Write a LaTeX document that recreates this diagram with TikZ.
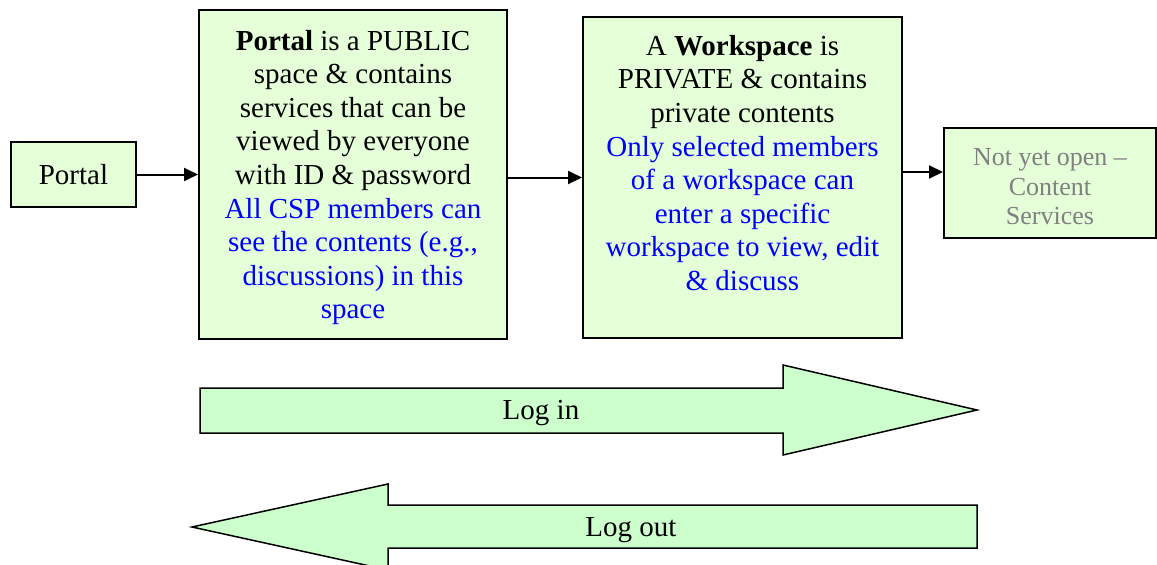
\documentclass[tikz,border=0pt]{standalone}
\usepackage{fontspec}
\setmainfont{Liberation Serif}
\usetikzlibrary{arrows.meta}

\definecolor{boxgreen}{RGB}{229,255,217}
\definecolor{arrowgreen}{RGB}{204,255,204}
\definecolor{csblue}{RGB}{0,0,255}
\definecolor{closedgray}{RGB}{128,128,128}

\tikzset{
  box/.style={draw=black, line width=2pt, fill=boxgreen, inner sep=0pt},
  boxtext/.style={align=center, inner sep=0pt, font=\fontsize{29}{33.6}\selectfont},
  link/.style={line width=2pt, -{Triangle[length=14pt,width=13pt]}},
  bigarrow/.style={draw=black, line width=1.5pt, fill=arrowgreen},
}

\begin{document}
\begin{tikzpicture}[x=1pt,y=-1pt]
\useasboundingbox (0,0) rectangle (1157,565);

% Caixas de cima
\node[box, boxtext, minimum width=125pt, minimum height=65pt] (portal) at (73.5,174.5) {Portal};

\node[box, minimum width=308pt, minimum height=329pt] (public) at (353,174.5) {};
\node[boxtext] (publictext) at ([yshift=-3pt]public.center)
  {\textbf{Portal} is a PUBLIC\\ space \& contains\\ services that can be\\ viewed by everyone\\ with ID \& password\\
   \color{csblue}All CSP members can\\ \color{csblue}see the contents (e.g.,\\ \color{csblue}discussions) in this\\ \color{csblue}space};

\node[box, minimum width=319pt, minimum height=321pt] (work) at (742.5,177.5) {};
\node[boxtext, anchor=north] (worktext) at ([yshift=-19pt]work.north)
  {A \textbf{Workspace} is\\ PRIVATE \& contains\\ private contents\\
   \color{csblue}Only selected members\\ \color{csblue}of a workspace can\\ \color{csblue}enter a specific\\ \color{csblue}workspace to view, edit\\ \color{csblue}\& discuss};

\node[box, minimum width=212pt, minimum height=110pt] (next) at (1050,183) {};
\node[align=center, inner sep=0pt, text=closedgray, font=\fontsize{26}{29.6}\selectfont] (nexttext)
  at ([yshift=-4pt]next.center) {Not yet open --\\ Content\\ Services};

% Setas entre as caixas
\draw[link] (portal) -- (public);
\draw[link] (public.east |- work) -- (work);
\coordinate (nextin) at ([yshift=11pt]next.west);
\draw[link] (work.east |- nextin) -- (nextin);

% Seta larga - entrar
\draw[bigarrow] (200,388) -- (783,388) -- (783,365) -- (977,410) -- (783,455) -- (783,433) -- (200,433) -- cycle;
\node[boxtext] (login) at (541,413) {Log in};

% Seta larga - sair
\draw[bigarrow] (977,505) -- (388,505) -- (388,484) -- (192,527) -- (388,570) -- (388,548) -- (977,548) -- cycle;
\node[boxtext] (logout) at (631,530) {Log out};

\end{tikzpicture}
\end{document}
